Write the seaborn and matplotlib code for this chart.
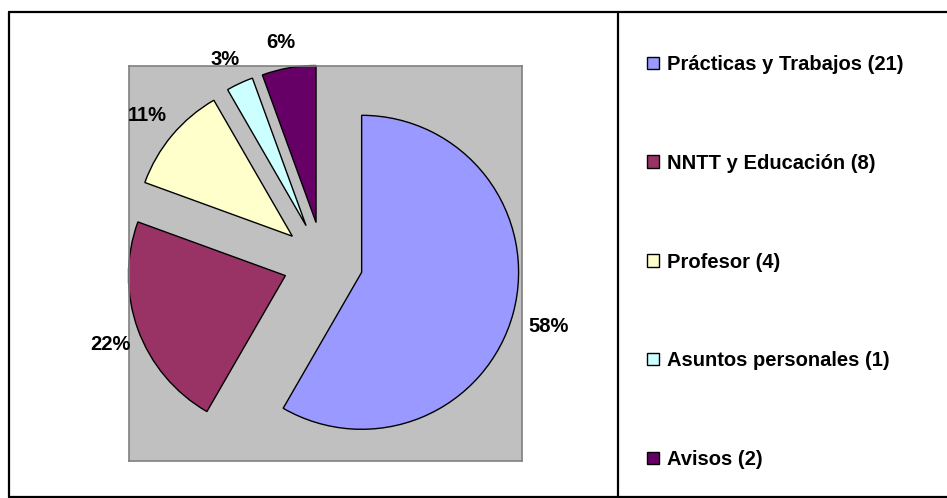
import numpy as np
import seaborn as sns
import matplotlib.pyplot as plt
from matplotlib.lines import Line2D
from matplotlib.transforms import offset_copy

categories = ['Prácticas y Trabajos', 'NNTT y Educación', 'Profesor', 'Asuntos personales', 'Avisos']
counts = [21, 8, 4, 1, 2]
colors = ['#9999FF', '#993366', '#FFFFCC', '#CCFFFF', '#660066']

total = sum(counts)
pct_labels = [f"{round(c / total * 100)}%" for c in counts]
legend_labels = [f"{cat} ({c})" for cat, c in zip(categories, counts)]

sns.set_theme(style='white')
plt.rcParams['font.family'] = ['Liberation Sans', 'DejaVu Sans']
plt.rcParams['text.color'] = 'black'

W, H = 947, 498
fig = plt.figure(figsize=(W / 100, H / 100), dpi=100)
fig.patch.set_facecolor('white')

# gray plot area
ax = fig.add_axes([129 / W, (H - 461) / H, 393 / W, 395 / H])
expl = 0.255
wedges, texts = ax.pie(counts, colors=sns.color_palette(colors), explode=[expl] * len(counts),
                       startangle=90, counterclock=False, labels=pct_labels, labeldistance=1.1,
                       wedgeprops=dict(edgecolor='black', linewidth=1.0),
                       textprops=dict(fontsize=14.5, fontweight='bold', color='black'))
ax.set_aspect('auto')
ax.set_xlim(-1.236, 1.268)
ax.set_ylim(-1.268, 1.248)
ax.set_frame_on(True)
ax.set_facecolor('#C0C0C0')
ax.set_xticks([])
ax.set_yticks([])
for s in ax.spines.values():
    s.set_color('#808080')
    s.set_linewidth(1.2)

# excel-like label anchoring
for w, t in zip(wedges, texts):
    th = np.deg2rad((w.theta1 + w.theta2) / 2)
    dx, dy = np.cos(th), np.sin(th)
    ha = 'left' if dx > 0.3 else 'right' if dx < -0.3 else 'center'
    t.set_ha(ha)
    t.set_va('bottom' if dy > 0.2 else 'top' if dy < -0.2 else 'center')
    if ha == 'right':
        t.set_transform(offset_copy(ax.transData, fig=fig, x=7, y=0, units='dots'))
    elif ha == 'center':
        t.set_transform(offset_copy(ax.transData, fig=fig, x=-5, y=0, units='dots'))

leg = fig.legend(handles=wedges, labels=legend_labels, loc='upper left',
                 bbox_to_anchor=(647 / W, 1 - 55 / H), frameon=False, borderpad=0,
                 borderaxespad=0, handlelength=0.58, handleheight=0.58, handletextpad=0.43,
                 labelspacing=3.96, prop=dict(size=14.5, weight='bold'))

# outer frame and divider
kw = dict(color='black', linewidth=1.6, transform=fig.transFigure)
fig.add_artist(Line2D([9 / W, 9 / W], [1 - 12 / H, 1 - 497 / H], **kw))
fig.add_artist(Line2D([9 / W, 1], [1 - 12 / H, 1 - 12 / H], **kw))
fig.add_artist(Line2D([9 / W, 1], [1 - 497 / H, 1 - 497 / H], **kw))
fig.add_artist(Line2D([618 / W, 618 / W], [1 - 12 / H, 1 - 497 / H], **kw))

fig.savefig('out.png', dpi=100)
